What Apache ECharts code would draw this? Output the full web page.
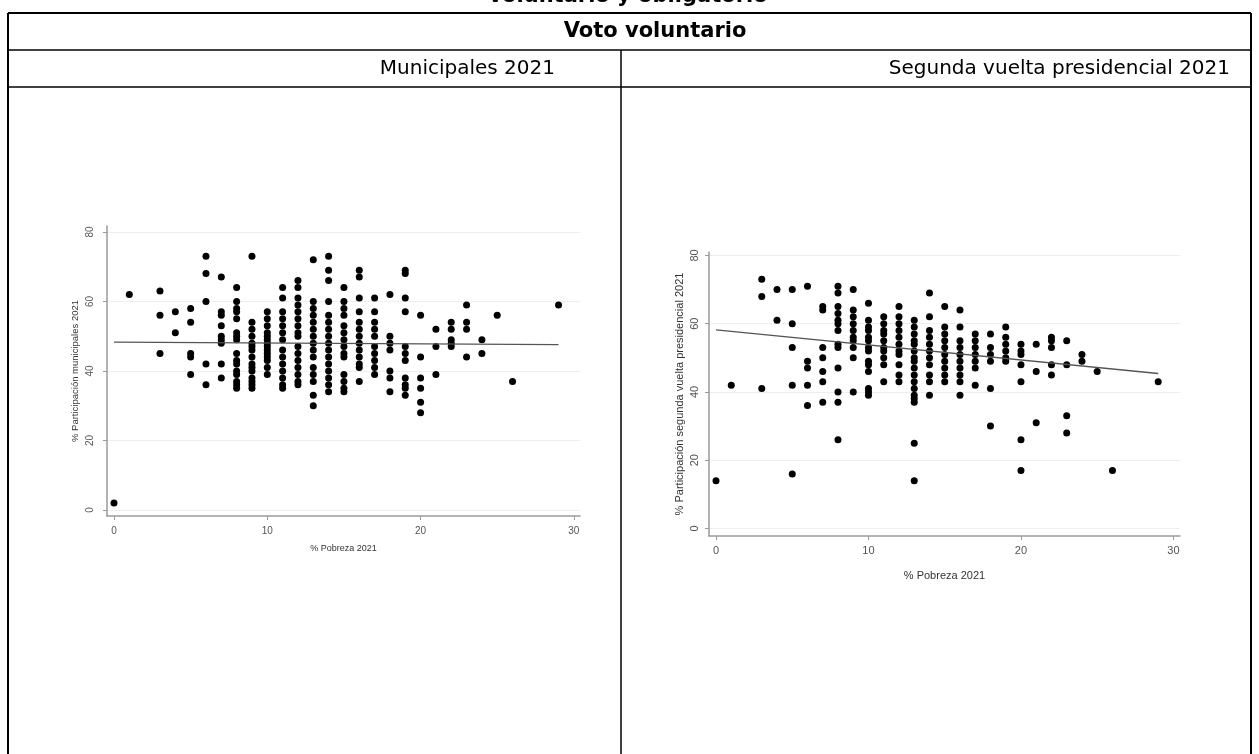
<!DOCTYPE html>
<html><head><meta charset="utf-8">
<script src="https://cdn.jsdelivr.net/npm/echarts@6/dist/echarts.min.js"></script>
<style>html,body{margin:0;padding:0;background:#fff}#c{width:1259px;height:754px}</style>
</head><body><div id="c"></div>
<script>
const xTicks = [0, 10, 20, 30];
const yTicks = [0, 20, 40, 60, 80];
const headerTitle = 'voluntario y obligatorio';
const rowTitle = 'Voto voluntario';
const colTitles = ['Municipales 2021', 'Segunda vuelta presidencial 2021'];
const xName = '% Pobreza 2021';
const yNames = ['% Participación municipales 2021', '% Participación segunda vuelta presidencial 2021'];

// Municipales 2021: [% pobreza, % participación]
const munPoints = [
 [0,2],[1,62],
 [3,63],[3,56],[3,45],
 [4,57],[4,51],
 [5,58],[5,54],[5,45],[5,44],[5,39],
 [6,73],[6,68],[6,60],[6,42],[6,36],
 [7,67],[7,57],[7,56],[7,53],[7,50],[7,49],[7,48],[7,42],[7,38],
 [8,64],[8,60],[8,58],[8,57],[8,55],[8,51],[8,50],[8,49],[8,45],[8,43],[8,42],[8,40],[8,39],[8,37],[8,36],[8,35],
 [9,73],[9,54],[9,52],[9,50],[9,48],[9,47],[9,46],[9,44],[9,42],[9,41],[9,40],[9,38],[9,37],[9,36],[9,35],
 [10,57],[10,55],[10,53],[10,51],[10,50],[10,49],[10,48],[10,47],[10,46],[10,45],[10,44],[10,43],[10,41],[10,39],
 [11,64],[11,61],[11,57],[11,55],[11,53],[11,51],[11,49],[11,46],[11,44],[11,42],[11,40],[11,38],[11,36],[11,35],
 [12,66],[12,64],[12,61],[12,59],[12,57],[12,55],[12,53],[12,51],[12,50],[12,47],[12,45],[12,43],[12,41],[12,39],[12,37],[12,36],
 [13,72],[13,60],[13,58],[13,56],[13,54],[13,52],[13,50],[13,48],[13,46],[13,44],[13,41],[13,39],[13,37],[13,33],[13,30],
 [14,73],[14,69],[14,66],[14,60],[14,56],[14,54],[14,52],[14,50],[14,48],[14,46],[14,44],[14,42],[14,40],[14,38],[14,36],[14,34],
 [15,64],[15,60],[15,58],[15,56],[15,53],[15,51],[15,49],[15,47],[15,45],[15,44],[15,39],[15,37],[15,35],[15,34],
 [16,69],[16,67],[16,61],[16,57],[16,54],[16,52],[16,50],[16,48],[16,46],[16,44],[16,42],[16,41],[16,37],
 [17,61],[17,57],[17,54],[17,52],[17,50],[17,47],[17,45],[17,43],[17,41],[17,39],
 [18,62],[18,50],[18,48],[18,46],[18,40],[18,38],[18,34],
 [19,69],[19,68],[19,61],[19,57],[19,47],[19,45],[19,43],[19,38],[19,36],[19,35],[19,33],
 [20,56],[20,44],[20,38],[20,35],[20,31],[20,28],
 [21,52],[21,47],[21,39],
 [22,54],[22,52],[22,49],[22,48],[22,47],
 [23,59],[23,54],[23,52],[23,44],
 [24,49],[24,45],
 [25,56],[26,37],[29,59]
];
const munFit = [[0,48.3],[29,47.6]];

// Segunda vuelta presidencial 2021: [% pobreza, % participación]
const presPoints = [
 [0,14],[1,42],
 [3,73],[3,68],[3,41],
 [4,70],[4,61],
 [5,70],[5,60],[5,53],[5,42],[5,16],
 [6,71],[6,49],[6,47],[6,42],[6,36],
 [7,65],[7,64],[7,53],[7,50],[7,46],[7,43],[7,37],
 [8,71],[8,69],[8,65],[8,63],[8,61],[8,60],[8,58],[8,54],[8,53],[8,47],[8,40],[8,37],[8,26],
 [9,70],[9,64],[9,62],[9,60],[9,58],[9,56],[9,55],[9,53],[9,50],[9,40],
 [10,66],[10,61],[10,59],[10,58],[10,56],[10,55],[10,53],[10,52],[10,49],[10,48],[10,46],[10,41],[10,40],[10,39],
 [11,62],[11,60],[11,58],[11,57],[11,55],[11,53],[11,52],[11,50],[11,48],[11,43],
 [12,65],[12,62],[12,60],[12,58],[12,56],[12,54],[12,52],[12,51],[12,48],[12,45],[12,43],
 [13,61],[13,59],[13,57],[13,55],[13,54],[13,52],[13,50],[13,49],[13,47],[13,45],[13,43],[13,41],[13,39],[13,38],[13,37],[13,25],[13,14],
 [14,69],[14,62],[14,58],[14,56],[14,54],[14,52],[14,50],[14,48],[14,45],[14,43],[14,39],
 [15,65],[15,59],[15,57],[15,55],[15,53],[15,51],[15,49],[15,47],[15,45],[15,43],
 [16,64],[16,59],[16,55],[16,53],[16,51],[16,49],[16,47],[16,45],[16,43],[16,39],
 [17,57],[17,55],[17,53],[17,51],[17,49],[17,47],[17,42],
 [18,57],[18,53],[18,51],[18,49],[18,41],[18,30],
 [19,59],[19,56],[19,54],[19,52],[19,50],[19,49],
 [20,54],[20,52],[20,51],[20,48],[20,43],[20,26],[20,17],
 [21,54],[21,46],[21,31],
 [22,56],[22,55],[22,53],[22,48],[22,45],
 [23,55],[23,48],[23,33],[23,28],
 [24,51],[24,49],
 [25,46],[26,17],[29,43]
];
const presFit = [[0,58.2],[29,45.4]];

const chart = echarts.init(document.getElementById('c'), null, {renderer: 'canvas'});
const tickFont = 'Liberation Sans, Arial, sans-serif';
const headFont = 'DejaVu Sans, sans-serif';

function xAxisCfg(gi, min, max, gap, nameSize, tickSize, margin) {
  return {
    type: 'value', gridIndex: gi, min: min, max: max,
    name: xName, nameLocation: 'middle', nameGap: gap,
    nameTextStyle: {color: '#333', fontSize: nameSize, fontFamily: tickFont},
    axisLine: {show: true, onZero: false, lineStyle: {color: '#9a9a9a', width: 1.5}},
    axisTick: {show: true, length: 4, customValues: xTicks, lineStyle: {color: '#9a9a9a'}},
    axisLabel: {customValues: xTicks, color: '#555', fontSize: tickSize, margin: margin, fontFamily: tickFont},
    splitLine: {show: false}
  };
}
function yAxisCfg(gi, min, max, name, gap, nameSize, tickSize, margin) {
  return {
    type: 'value', gridIndex: gi, min: min, max: max,
    name: name, nameLocation: 'middle', nameGap: gap, nameRotate: 90,
    nameTextStyle: {color: '#333', fontSize: nameSize, fontFamily: tickFont},
    axisLine: {show: true, onZero: false, lineStyle: {color: '#9a9a9a', width: 1.5}},
    axisTick: {show: true, length: 4, customValues: yTicks, lineStyle: {color: '#9a9a9a'}},
    axisLabel: {customValues: yTicks, rotate: 90, color: '#555', fontSize: tickSize, margin: margin, fontFamily: tickFont},
    splitLine: {show: true, lineStyle: {color: '#efefef', width: 1}}
  };
}

function hline(x1, x2, y, w) { return {type: 'line', shape: {x1: x1, y1: y, x2: x2, y2: y}, style: {stroke: '#000', lineWidth: w}, silent: true}; }
function vline(x, y1, y2, w) { return {type: 'line', shape: {x1: x, y1: y1, x2: x, y2: y2}, style: {stroke: '#000', lineWidth: w}, silent: true}; }
function txt(t, x, y, align, bold, size) {
  return {type: 'text', x: x, y: y, silent: true,
    style: {text: t, align: align, verticalAlign: 'middle', fill: '#000',
      font: (bold ? 'bold ' : '') + size + 'px ' + headFont}};
}

chart.setOption({
  animation: false,
  backgroundColor: '#fff',
  grid: [
    {left: 107, top: 226, width: 473, height: 290, containLabel: false},
    {left: 709, top: 252, width: 471, height: 284, containLabel: false}
  ],
  xAxis: [
    xAxisCfg(0, -0.457, 30.4, 28, 9, 10, 10),
    xAxisCfg(1, -0.46, 30.43, 34, 11, 11, 9)
  ],
  yAxis: [
    yAxisCfg(0, -1.73, 81.7, yNames[0], 27, 9.5, 10, 12),
    yAxisCfg(1, -2.2, 81.0, yNames[1], 24, 11, 11, 9)
  ],
  series: [
    {type: 'scatter', xAxisIndex: 0, yAxisIndex: 0, data: munPoints, symbolSize: 7, itemStyle: {color: '#000', opacity: 1}},
    {type: 'line', xAxisIndex: 0, yAxisIndex: 0, data: munFit, showSymbol: false, lineStyle: {color: '#555', width: 1.3}},
    {type: 'scatter', xAxisIndex: 1, yAxisIndex: 1, data: presPoints, symbolSize: 7, itemStyle: {color: '#000', opacity: 1}},
    {type: 'line', xAxisIndex: 1, yAxisIndex: 1, data: presFit, showSymbol: false, lineStyle: {color: '#555', width: 1.3}}
  ],
  graphic: [
    hline(8, 1251, 13, 2),
    hline(8, 1251, 50, 1.5),
    hline(8, 1251, 87, 1.5),
    vline(8, 13, 754, 2),
    vline(1251, 13, 754, 2),
    vline(621, 50, 754, 1.5),
    txt(headerTitle, 628, -3, 'center', true, 21),
    txt(rowTitle, 655, 32, 'center', true, 21),
    txt(colTitles[0], 555, 69, 'right', false, 20),
    txt(colTitles[1], 1230, 69, 'right', false, 20)
  ]
});
</script></body></html>
